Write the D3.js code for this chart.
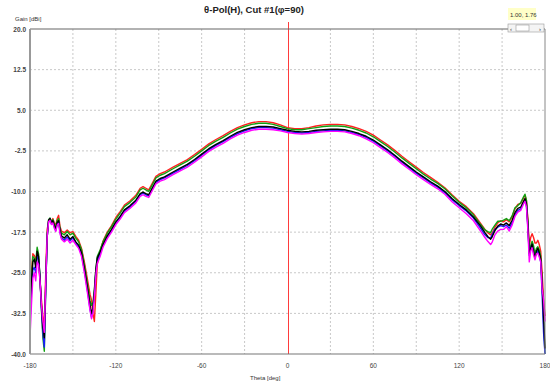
<!DOCTYPE html>
<html>
<head>
<meta charset="utf-8">
<script src="https://cdn.jsdelivr.net/npm/d3@7"></script>
<style>
  body { margin: 0; background: #fff; }
  svg { display: block; font-family: "Liberation Sans", Arial, sans-serif; }
</style>
</head>
<body>
<div id="chart"></div>
<script>
// theta cut, degrees
const theta = [-180,-179,-178,-177,-176,-175,-174,-173,-172,-171,-170,-169,-168,-167,-166,-165,-164,-163,-162,-161,-160,-159,-158,
  -156,-154,-152,-150,-148,-146,-144,-142,-140,-138,-137,-136,-135,-134,-133,
  -131,-129,-126,-123,-120,-117,-114,-110,-106,-103,-101,-99,-97,-95,-92,-89,-86,
  -80,-75,-70,-65,-60,-55,-50,-45,-40,-35,-30,-25,-20,-15,-10,-5,0,5,10,15,20,25,30,35,40,45,50,55,60,65,70,75,80,85,90,95,100,105,110,115,120,125,130,135,
  138,140,142,143,145,147,149,151,153,155,157,159,161,163,165,
  166,167,168,169,170,171,172,173,174,175,176,177,178,179,180];

const gainRed = [-29.5,-25,-21.5,-21.8,-22.5,-21.5,-23,-26.5,-30,-33,-35,-25,-17,-15.5,-15.2,-15.5,-15.0,-15.8,-16.2,-15.0,-14.4,-16.5,-17.3,
  -17.6,-17.1,-17.6,-17.4,-18.3,-19.0,-20.5,-23.0,-26.0,-29.0,-30.0,-32.5,-34.0,-29.0,-23.5,
  -21.0,-19.2,-17.5,-16.3,-14.8,-13.7,-12.5,-11.7,-10.7,-9.4,-9.1,-9.4,-9.7,-8.7,-7.2,-6.7,-6.4,
  -5.5,-4.8,-4.1,-3.2,-2.2,-1.2,-0.4,0.3,1.1,1.8,2.3,2.7,2.9,2.9,2.7,2.3,1.8,1.6,1.6,1.8,2.1,2.3,2.4,2.4,2.3,2.0,1.6,1.1,0.4,-0.5,-1.4,-2.4,-3.5,-4.5,-5.5,-6.5,-7.4,-8.3,-9.3,-10.6,-11.8,-12.8,-14.1,-15.9,
  -17.0,-17.6,-18.0,-17.7,-16.6,-15.8,-15.4,-15.6,-15.2,-15.6,-14.7,-13.2,-12.4,-12.2,-11.2,
  -10.7,-11.6,-15,-20,-18.5,-17.8,-18.5,-19.5,-19.5,-19.0,-19.8,-21,-25,-30,-33];

const gainGreen = [-31,-26,-22,-22.3,-23,-20.3,-21.5,-26,-32,-37,-39.5,-28,-18,-15.2,-14.9,-15.6,-15.2,-16.0,-16.6,-15.4,-15.0,-16.9,-17.7,
  -18.0,-17.4,-18.0,-17.7,-18.6,-19.3,-20.7,-23.5,-26.8,-30.2,-31.0,-30.5,-28.0,-24.5,-22.0,
  -20.8,-19.3,-17.7,-16.5,-15.1,-14.0,-12.8,-12.0,-11.0,-9.7,-9.4,-9.7,-10.0,-9.0,-7.5,-7.0,-6.7,
  -5.8,-5.1,-4.4,-3.5,-2.5,-1.5,-0.7,0.0,0.8,1.5,2.0,2.4,2.6,2.6,2.4,2.0,1.6,1.4,1.4,1.6,1.8,2.0,2.1,2.1,2.0,1.7,1.3,0.8,0.1,-0.8,-1.7,-2.7,-3.8,-4.8,-5.8,-6.8,-7.7,-8.5,-9.5,-10.8,-12.0,-13.0,-14.3,-16.1,
  -17.1,-17.4,-17.6,-17.0,-16.2,-15.5,-15.5,-15.3,-15.0,-15.4,-14.5,-13.0,-12.6,-12.1,-11.0,
  -10.5,-11.6,-15.5,-21,-20,-19.2,-20,-21.5,-20.5,-20.2,-20.8,-22,-27,-34,-40];

const gainBlack = [-32,-27,-23,-22.5,-24,-21,-22,-26,-31,-35,-37,-27,-18.5,-15.3,-15,-15.8,-15.4,-16.3,-16.9,-15.7,-15.4,-17.2,-18.2,
  -18.6,-18.0,-18.8,-18.3,-19.3,-19.9,-21.3,-24.2,-27.5,-31,-32.5,-31.5,-28.5,-24.5,-22.3,
  -21.2,-19.8,-18.2,-17.0,-15.6,-14.6,-13.4,-12.6,-11.6,-10.4,-10.1,-10.4,-10.6,-9.6,-8.1,-7.6,-7.3,
  -6.4,-5.7,-5.0,-4.1,-3.1,-2.1,-1.3,-0.6,0.2,0.9,1.4,1.8,2.0,2.0,1.9,1.6,1.3,1.1,1.0,1.1,1.3,1.4,1.5,1.5,1.4,1.1,0.7,0.2,-0.5,-1.4,-2.3,-3.3,-4.4,-5.4,-6.4,-7.3,-8.2,-9.0,-10.0,-11.3,-12.4,-13.4,-14.7,-16.4,
  -17.6,-18.3,-18.8,-18.4,-17.2,-16.4,-16.0,-16.2,-15.8,-16.3,-15.3,-13.9,-13.1,-12.9,-11.8,
  -11.3,-12.2,-16,-21.5,-20.5,-19.7,-21,-22.3,-21,-20.5,-21.3,-22.5,-27,-33,-39];

const gainBlue = [-34,-28.5,-24.5,-24,-25,-22,-22.5,-26,-31.5,-36,-38.7,-28,-18.5,-15.5,-15.1,-16.0,-15.6,-16.5,-17.2,-16.0,-15.6,-17.5,-18.6,
  -19.0,-18.4,-19.1,-18.6,-19.5,-20.2,-21.6,-24.5,-28.0,-31.8,-33.2,-32.0,-29.0,-25.0,-22.8,
  -21.5,-20.0,-18.4,-17.2,-15.8,-14.8,-13.6,-12.8,-11.8,-10.6,-10.3,-10.6,-10.8,-9.8,-8.3,-7.8,-7.5,
  -6.6,-5.9,-5.2,-4.3,-3.3,-2.3,-1.5,-0.8,0.0,0.7,1.2,1.6,1.8,1.8,1.7,1.4,1.1,0.9,0.8,0.9,1.1,1.2,1.3,1.3,1.2,0.9,0.5,0.0,-0.7,-1.6,-2.5,-3.5,-4.6,-5.6,-6.6,-7.5,-8.4,-9.2,-10.2,-11.5,-12.6,-13.6,-14.9,-16.8,
  -18.0,-18.5,-18.6,-18.0,-17.0,-16.6,-16.3,-16.5,-16.2,-16.8,-15.8,-14.3,-13.5,-13.2,-12.0,
  -11.5,-12.5,-16.5,-21.8,-20.3,-19.8,-21.3,-22.0,-21.5,-21.0,-21.8,-23,-29,-36,-40];

const gainMagenta = [-37,-31,-26,-25,-26.5,-23,-23.5,-26.5,-31,-34,-36,-27,-18.3,-15.6,-15.3,-16.1,-15.8,-16.8,-17.4,-16.2,-15.9,-17.8,-18.8,
  -19.3,-18.8,-19.5,-19.0,-19.8,-20.5,-22.0,-25.0,-28.5,-32.0,-33.5,-32.5,-29.5,-25.5,-23.3,
  -22.0,-20.3,-18.7,-17.5,-16.1,-15.1,-13.9,-13.1,-12.1,-10.9,-10.6,-10.9,-11.1,-10.1,-8.6,-8.1,-7.8,
  -6.9,-6.2,-5.5,-4.6,-3.6,-2.6,-1.8,-1.1,-0.3,0.4,0.9,1.3,1.5,1.5,1.4,1.2,0.9,0.7,0.6,0.7,0.9,1.0,1.1,1.1,1.0,0.7,0.3,-0.3,-1.0,-1.9,-2.8,-3.8,-4.9,-5.9,-6.9,-7.8,-8.7,-9.5,-10.5,-11.9,-13.0,-14.1,-15.4,-17.3,
  -18.5,-19.2,-19.8,-19.4,-18.0,-17.3,-17.0,-17.0,-16.5,-17.3,-16.2,-14.6,-13.8,-13.5,-12.3,
  -11.8,-12.8,-17,-23,-21,-20.4,-21.7,-22.6,-21.5,-21.4,-22.1,-23,-28,-30,-34];

const xTickLabels = [-180, -120, -60, 0, 60, 120, 180];
const xGrid = [-150, -120, -90, -60, -30, 30, 60, 90, 120, 150];
const yTickLabels = [20, 12.5, 5, -2.5, -10, -17.5, -25, -32.5, -40];

const series = [
  { name: "red", color: "#ff2020", values: gainRed },
  { name: "green", color: "#10a010", values: gainGreen },
  { name: "blue", color: "#1a1aff", values: gainBlue },
  { name: "black", color: "#000000", values: gainBlack },
  { name: "magenta", color: "#ff00ff", values: gainMagenta }
];

const width = 550, height = 383;
const margin = { top: 29, right: 5, bottom: 29, left: 30 };

const svg = d3.select("#chart").append("svg")
  .attr("width", width)
  .attr("height", height);

const x = d3.scaleLinear().domain([-180, 180]).range([margin.left, width - margin.right]);
const y = d3.scaleLinear().domain([-40, 20]).range([height - margin.bottom, margin.top]);

// grid
svg.append("g")
  .selectAll("line")
  .data(xGrid)
  .join("line")
  .attr("x1", d => x(d)).attr("x2", d => x(d))
  .attr("y1", y(20)).attr("y2", y(-40))
  .attr("stroke", "#c8c8c8")
  .attr("stroke-dasharray", "2,2");

svg.append("g")
  .selectAll("line")
  .data(yTickLabels.slice(1, -1))
  .join("line")
  .attr("x1", x(-180)).attr("x2", x(180))
  .attr("y1", d => y(d)).attr("y2", d => y(d))
  .attr("stroke", "#c8c8c8")
  .attr("stroke-dasharray", "2,2");

// zero marker
svg.append("line")
  .attr("x1", Math.round(x(0)) + 0.5).attr("x2", Math.round(x(0)) + 0.5)
  .attr("y1", y(20) - 7).attr("y2", y(-40))
  .attr("stroke", "#ff3b3b")
  .attr("stroke-width", 1);

// curves
const line = d3.line()
  .x((d, i) => x(theta[i]))
  .y(d => y(d));

svg.append("g")
  .selectAll("path")
  .data(series)
  .join("path")
  .attr("d", d => line(d.values))
  .attr("fill", "none")
  .attr("stroke", d => d.color)
  .attr("stroke-width", 1.4)
  .attr("stroke-linejoin", "round");

// frame
svg.append("line")
  .attr("x1", x(-180)).attr("x2", x(180))
  .attr("y1", y(20)).attr("y2", y(20))
  .attr("stroke", "#666").attr("stroke-width", 1.2);
svg.append("line")
  .attr("x1", x(-180)).attr("x2", x(180))
  .attr("y1", y(-40)).attr("y2", y(-40))
  .attr("stroke", "#777").attr("stroke-width", 1.2);
svg.append("line")
  .attr("x1", x(-180)).attr("x2", x(-180))
  .attr("y1", y(20)).attr("y2", y(-40))
  .attr("stroke", "#999").attr("stroke-width", 2);
svg.append("line")
  .attr("x1", x(180)).attr("x2", x(180))
  .attr("y1", y(20)).attr("y2", y(-40))
  .attr("stroke", "#888").attr("stroke-width", 1);

// tick labels
svg.append("g")
  .selectAll("text")
  .data(yTickLabels)
  .join("text")
  .attr("x", margin.left - 4)
  .attr("y", d => y(d) + 2.5)
  .attr("text-anchor", "end")
  .attr("font-size", 6.5)
  .attr("font-weight", "bold")
  .attr("fill", "#444")
  .text(d => d.toFixed(1));

svg.append("g")
  .selectAll("text")
  .data(xTickLabels)
  .join("text")
  .attr("x", d => x(d))
  .attr("y", height - margin.bottom + 14)
  .attr("text-anchor", "middle")
  .attr("font-size", 6.5)
  .attr("fill", "#444")
  .text(d => d);

svg.append("text")
  .attr("x", 15).attr("y", 21)
  .attr("font-size", 6)
  .attr("fill", "#333")
  .text("Gain [dBi]");

svg.append("text")
  .attr("x", 250).attr("y", 380)
  .attr("font-size", 6)
  .attr("fill", "#333")
  .text("Theta [deg]");

svg.append("text")
  .attr("x", 254).attr("y", 13)
  .attr("text-anchor", "middle")
  .attr("font-size", 9.5)
  .attr("font-weight", "bold")
  .attr("fill", "#222")
  .text("θ-Pol(H), Cut #1(φ=90)");

// cursor readout box
svg.append("rect")
  .attr("x", 508).attr("y", 8).attr("width", 28).attr("height", 12)
  .attr("fill", "#ffffc8");
svg.append("text")
  .attr("x", 510).attr("y", 16.5)
  .attr("font-size", 6)
  .attr("fill", "#333")
  .text("1.00, 1.76");

const scroll = svg.append("g").attr("transform", "translate(508,24)");
scroll.append("rect").attr("width", 36).attr("height", 8)
  .attr("fill", "#f4f4f4").attr("stroke", "#999").attr("stroke-width", 0.6);
scroll.append("rect").attr("x", 8).attr("y", 1).attr("width", 13).attr("height", 6)
  .attr("fill", "#fff").attr("stroke", "#999").attr("stroke-width", 0.6);
scroll.append("text").attr("x", 2).attr("y", 6.5).attr("font-size", 6).attr("fill", "#333").text("‹");
scroll.append("text").attr("x", 31).attr("y", 6.5).attr("font-size", 6).attr("fill", "#333").text("›");
</script>
</body>
</html>
